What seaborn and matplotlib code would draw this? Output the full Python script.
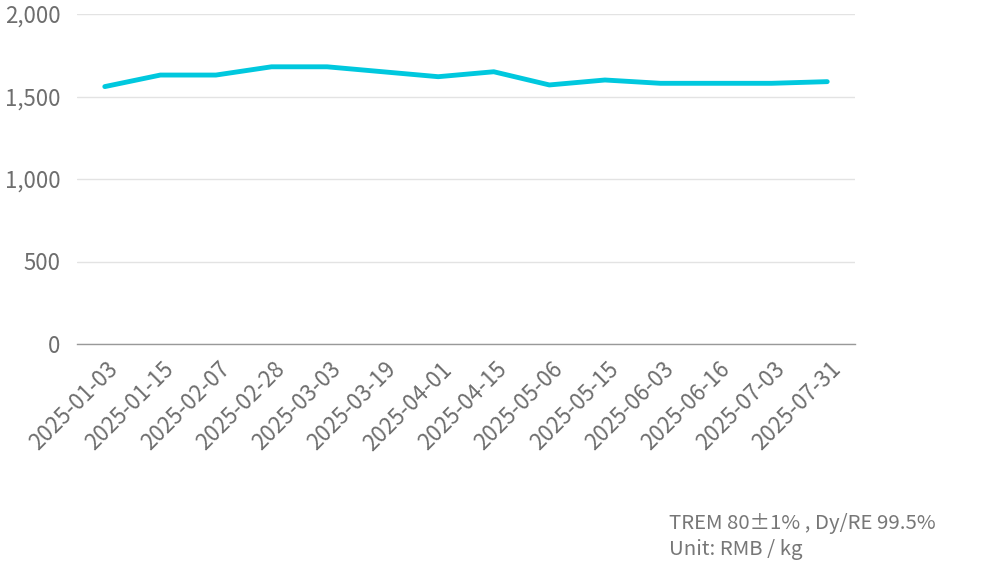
import matplotlib
matplotlib.use("Agg")
import matplotlib.pyplot as plt
import matplotlib.transforms as mtransforms
import seaborn as sns
import pandas as pd

dates = ["2025-01-03", "2025-01-15", "2025-02-07", "2025-02-28", "2025-03-03",
         "2025-03-19", "2025-04-01", "2025-04-15", "2025-05-06", "2025-05-15",
         "2025-06-03", "2025-06-16", "2025-07-03", "2025-07-31"]
prices = [1560, 1630, 1630, 1680, 1680, 1650, 1620, 1650, 1570, 1600,
          1580, 1580, 1580, 1590]
y_ticks = [0, 500, 1000, 1500, 2000]

sns.set_theme(style="white")
plt.rcParams["font.family"] = ["Noto Sans CJK SC", "DejaVu Sans"]

df = pd.DataFrame({"date": dates, "price": prices})

fig = plt.figure(figsize=(9.92, 5.83), dpi=100)
ax = fig.add_axes([77 / 992, 1 - 344 / 583, 778 / 992, 330 / 583])

sns.lineplot(data=df, x="date", y="price", ax=ax, color="#00c8de",
             linewidth=3.5, sort=False)

ax.set_xlim(-0.5, len(dates) - 0.5)
ax.set_ylim(0, 2000)
ax.set_yticks(y_ticks)
ax.set_yticklabels([f"{v:,}" for v in y_ticks])
ax.grid(axis="y", color="#e3e3e3", linewidth=1)
ax.set_axisbelow(True)
ax.set_xlabel("")
ax.set_ylabel("")

for s in ["top", "right", "left"]:
    ax.spines[s].set_visible(False)
ax.spines["bottom"].set_color("#999999")
ax.spines["bottom"].set_linewidth(1)

ax.tick_params(axis="y", length=0, pad=12, labelsize=16, labelcolor="#6e6e6e")
ax.tick_params(axis="x", length=0, pad=0, labelsize=16, labelcolor="#6e6e6e")
for lbl in ax.get_yticklabels():
    lbl.set_fontweight("light")

offset = mtransforms.ScaledTranslation(10 / 100, -22 / 100, fig.dpi_scale_trans)
for lbl in ax.get_xticklabels():
    lbl.set_rotation(45)
    lbl.set_ha("right")
    lbl.set_va("center")
    lbl.set_rotation_mode("anchor")
    lbl.set_fontweight("light")
    lbl.set_transform(lbl.get_transform() + offset)

fig.text(669 / 992, 1 - 523 / 583, "TREM 80\u00b11% , Dy/RE 99.5%",
         fontsize=14.7, color="#777777", va="center", ha="left", fontweight="light")
fig.text(669 / 992, 1 - 550 / 583, "Unit: RMB / kg",
         fontsize=14.7, color="#777777", va="center", ha="left", fontweight="light")

fig.savefig("out.png", dpi=100)
